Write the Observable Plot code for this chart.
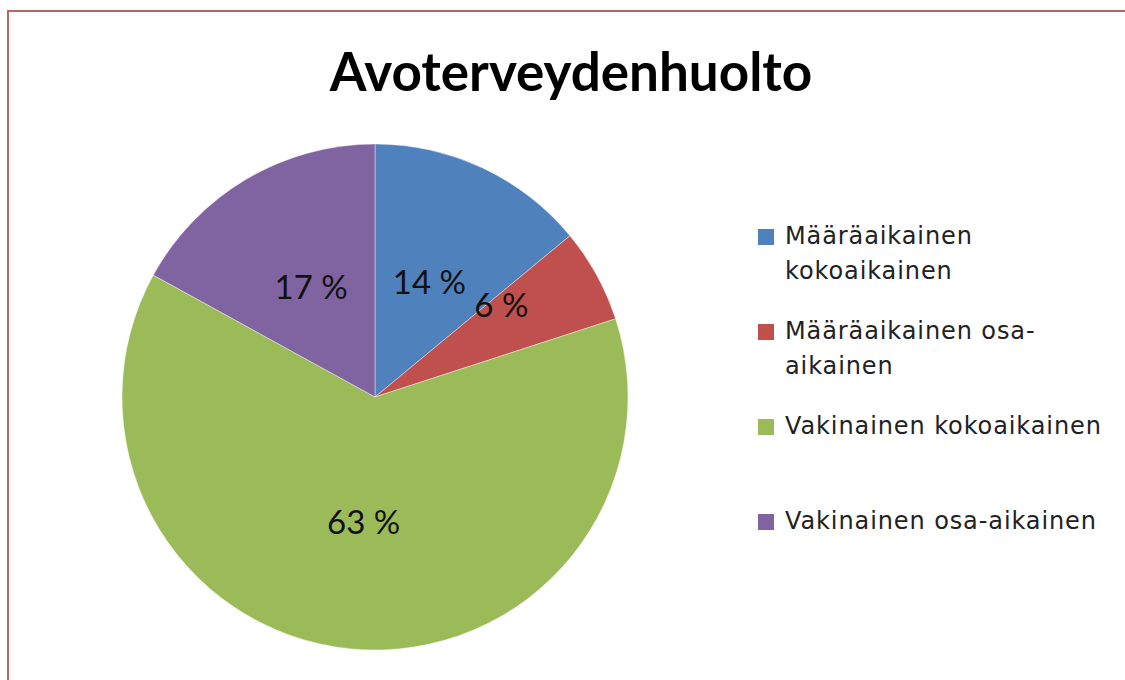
<!DOCTYPE html>
<html>
<head>
<meta charset="utf-8">
<script src="https://cdn.jsdelivr.net/npm/d3@7"></script>
<script src="https://cdn.jsdelivr.net/npm/@observablehq/plot@0.6"></script>
<style>
  html, body { margin: 0; padding: 0; background: #fff; }
  #wrap { position: relative; width: 1125px; height: 680px; overflow: hidden; background: #fff; }
  #frame { position: absolute; left: 7px; top: 10px; width: 1130px; height: 700px; border: 2px solid #b96563; box-sizing: border-box; }
  #title { position: absolute; left: 0; width: 1142px; top: 39px; text-align: center; font-family: Lato, "Open Sans", sans-serif; font-weight: 700; font-size: 53px; color: #000; line-height: 64px; }
  #chart { position: absolute; left: 0; top: 0; }
  #legend { position: absolute; left: 758px; top: 219px; font-family: "DejaVu Sans", sans-serif; font-size: 24px; color: #222; }
  .item { position: relative; height: 95px; width: 360px; }
  .sw { position: absolute; left: 0; top: 10px; width: 16px; height: 16px; }
  .lab { position: absolute; left: 27px; top: 0; width: 328px; line-height: 35px; letter-spacing: 0.9px; }
</style>
</head>
<body>
<div id="wrap">
  <div id="frame"></div>
  <div id="chart"></div>
  <div id="title"></div>
  <div id="legend"></div>
</div>
<script>
const title = "Avoterveydenhuolto";
const categories = ["Määräaikainen kokoaikainen", "Määräaikainen osa-aikainen", "Vakinainen kokoaikainen", "Vakinainen osa-aikainen"];
const values = [14, 6, 63, 17];
const colors = ["#4f81bd", "#c0504d", "#9bbb59", "#8064a2"];

const color = Plot.scale({color: {domain: categories, range: colors}});
const total = d3.sum(values);
const pie = d3.pie().sort(null).value(d => d.value)(categories.map((c, i) => ({category: c, value: values[i]})));
const rows = pie.map(p => {
  const mid = (p.startAngle + p.endAngle) / 2;
  return {category: p.data.category, value: p.data.value, start: p.startAngle, end: p.endAngle, mid,
          label: Math.round(p.data.value / total * 100) + " %"};
});

const arcs = (index, scales, values, dims, context) => {
  const cx = scales.x(0), cy = scales.y(0);
  const r = scales.x(1) - scales.x(0);
  const arc = d3.arc().innerRadius(0).outerRadius(r);
  const g = d3.create("svg:g").attr("transform", `translate(${cx},${cy})`);
  g.selectAll("path").data(rows).join("path")
    .attr("d", d => arc({startAngle: d.start, endAngle: d.end}))
    .attr("fill", d => color.apply(d.category))
    .attr("stroke", "#fff").attr("stroke-width", 0.4);
  return g.node();
};

const small = rows.filter(d => d.value < 10);
const big = rows.filter(d => d.value >= 10);

const plot = Plot.plot({
  width: 1125,
  height: 680,
  margin: 0,
  x: {domain: [-1, 1], range: [122, 628], axis: null},
  y: {domain: [-1, 1], range: [650, 144], axis: null},
  marks: [
    arcs,
    Plot.text(big, {x: d => 0.5 * Math.sin(d.mid), y: d => 0.5 * Math.cos(d.mid), text: "label",
      fontSize: 33, fontFamily: "Lato, 'Open Sans', sans-serif", fill: "#111"}),
    Plot.text(small, {x: d => 0.5 * Math.sin(d.mid), y: d => 0.5 * Math.cos(d.mid), text: "label", dx: 15, dy: -30,
      fontSize: 33, fontFamily: "Lato, 'Open Sans', sans-serif", fill: "#111"})
  ]
});
document.getElementById("chart").appendChild(plot);
document.getElementById("title").textContent = title;

const legend = d3.select("#legend");
const items = legend.selectAll("div.item").data(categories).join("div").attr("class", "item");
items.append("div").attr("class", "sw").style("background", d => color.apply(d));
items.append("div").attr("class", "lab").text(d => d);
</script>
</body>
</html>
